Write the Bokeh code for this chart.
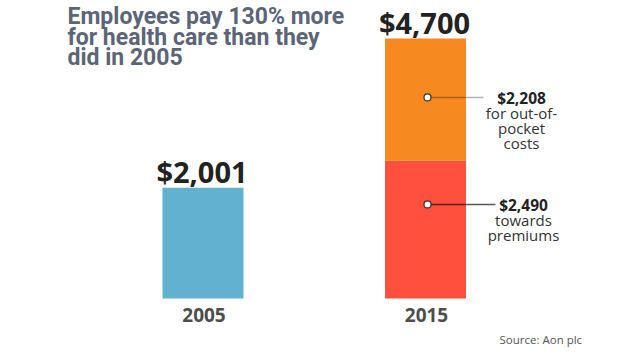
from bokeh.plotting import figure
from bokeh.models import Range1d, Label
from bokeh.core.properties import value
from bokeh.embed import file_html
from bokeh.resources import INLINE

# ---- data ----
years = [2005, 2015]
year_labels = ["2005", "2015"]
total_2005 = 2001
premiums_2015 = 2490
out_of_pocket_2015 = 2208
totals = [2001, 4700]
total_labels = ["$2,001", "$4,700"]
segment_labels = ["$2,208", "$2,490"]
segment_desc = [["for out-of-", "pocket", "costs"], ["towards", "premiums"]]
title_lines = ["Employees pay 130% more", "for health care than they", "did in 2005"]
source_text = "Source: Aon plc"

# ---- styling ----
BLUE = "#63b1d0"
ORANGE = "#f68a20"
RED = "#fe503c"
TITLE_C = "#5b6577"

W, H = 632, 352
px_per_year = 22.25
x0 = 2005 - 202.5 / px_per_year
px_per_usd = 260 / 4700
y0 = -(H - 298) / px_per_usd

p = figure(width=W, height=H, output_backend="svg", toolbar_location=None,
           x_range=Range1d(x0, x0 + W / px_per_year),
           y_range=Range1d(y0, y0 + H / px_per_usd),
           min_border=0, outline_line_color=None)
p.axis.visible = False
p.grid.visible = False
p.background_fill_color = "white"
p.border_fill_color = "white"

bw = 81 / px_per_year

# bars
p.vbar(x=[years[0]], bottom=[0], top=[total_2005], width=bw, color=BLUE, line_color=None)
p.vbar(x=[years[1]], bottom=[0], top=[premiums_2015], width=bw, color=RED, line_color=None)
p.vbar(x=[years[1]], bottom=[premiums_2015], top=[premiums_2015 + out_of_pocket_2015],
       width=bw, color=ORANGE, line_color=None)

# total labels
p.text(x=years, y=totals, text=total_labels, text_align="center",
       text_baseline="alphabetic", x_offset=-1, y_offset=-16,
       text_font=value("Open Sans"), text_font_style="bold",
       text_font_size="29px", text_color="#222222")

# year labels
p.text(x=years, y=[0, 0], text=year_labels, text_align="center",
       text_baseline="alphabetic", x_offset=1, y_offset=16,
       text_font=value("Open Sans"), text_font_style="bold",
       text_font_size="19px", text_color="#4d4d4d")

# callouts (layout positions)
dot_x = years[1] + 2 / px_per_year
dot_y = [3634, 1700]
line_end_x = [years[1] + 58 / px_per_year, years[1] + 70 / px_per_year]
text_x = [years[1] + 96 / px_per_year, years[1] + 98 / px_per_year]
line_alpha = [0.3, 0.65]

for i in range(2):
    p.segment(x0=[dot_x], y0=[dot_y[i]], x1=[line_end_x[i]], y1=[dot_y[i]],
              line_color="black", line_alpha=line_alpha[i], line_width=1.5)
    p.scatter(x=[dot_x], y=[dot_y[i]], size=7, fill_color="white",
              line_color="#333333", line_width=1.2)
    p.text(x=[text_x[i]], y=[dot_y[i]], text=[segment_labels[i]], text_align="center",
           text_baseline="alphabetic", y_offset=1,
           text_font=value("Open Sans"), text_font_style="bold",
           text_font_size="15.5px", text_color="#222222")
    n = len(segment_desc[i])
    p.text(x=[text_x[i]] * n, y=[dot_y[i]] * n, text=segment_desc[i], text_align="center",
           text_baseline="alphabetic", y_offset=[1 + 15 * (k + 1) for k in range(n)],
           text_font=value("Open Sans"), text_font_size="15px", text_color="#333333")

# title
for k, line in enumerate(title_lines):
    p.add_layout(Label(x=67, y=H - 16 - 20.5 * k, x_units="screen", y_units="screen",
                       text=line, text_font="Roboto", text_font_style="bold",
                       text_font_size="23px", text_color=TITLE_C,
                       text_baseline="alphabetic"))

# source
p.add_layout(Label(x=499, y=H - 339, x_units="screen", y_units="screen",
                   text=source_text, text_font="Open Sans", text_font_size="11.5px",
                   text_color="#555555", text_baseline="alphabetic"))

open("out.html", "w").write(file_html(p, INLINE))
